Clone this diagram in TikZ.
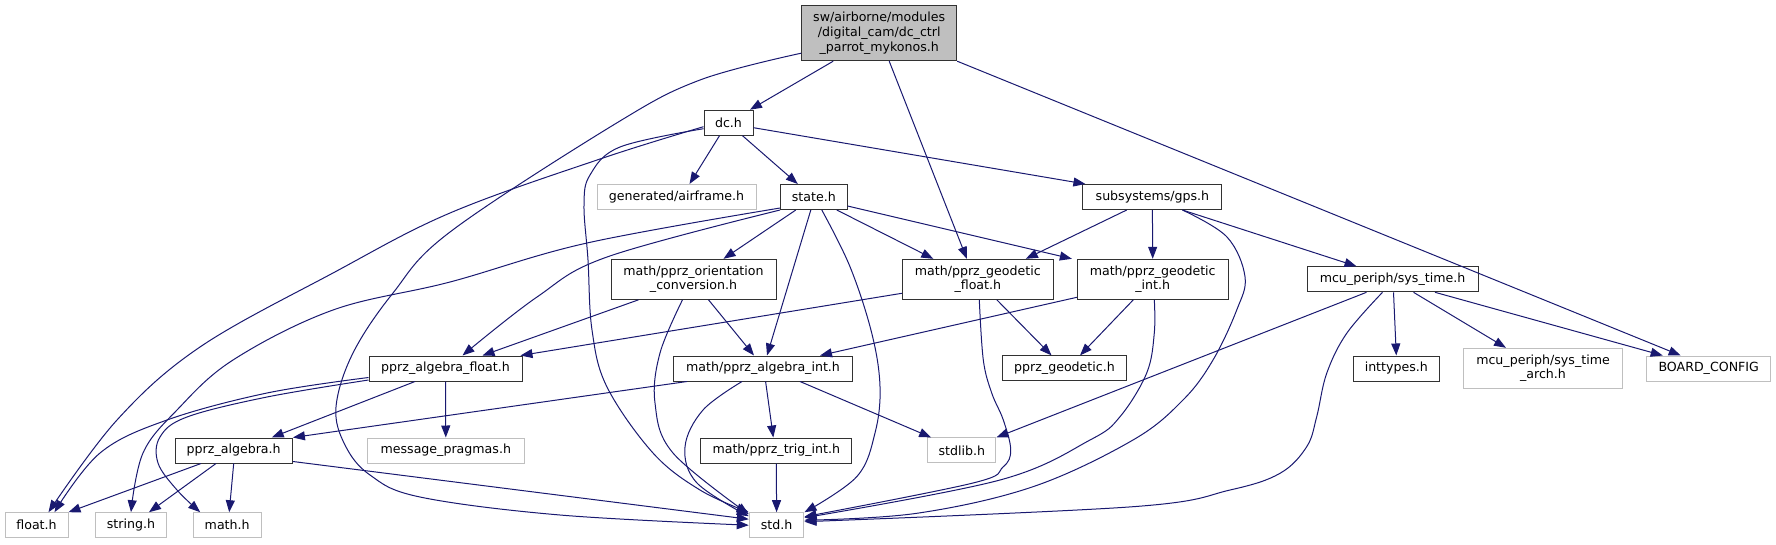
\documentclass[tikz,border=0pt]{standalone}
\usepackage{fontspec}
\setmainfont{DejaVu Sans}
\usetikzlibrary{arrows.meta}
\definecolor{EdgeBlue}{RGB}{25,25,112}
\definecolor{NodeGray}{RGB}{191,191,191}
\definecolor{BoxLine}{RGB}{50,50,50}
\tikzset{
  hdr/.style={draw=BoxLine,line width=1pt,fill=white,inner sep=0pt,
    minimum height=25pt,align=center,font=\fontsize{12.6}{14.7}\selectfont},
  sys/.style={hdr,draw=NodeGray},
  dep/.style={->,EdgeBlue,line width=1pt},
  curvy/.style={dep,smooth,tension=0.6}
}
\begin{document}
\begin{tikzpicture}[x=1pt,y=-1pt,>={Triangle[length=12pt,width=9pt]}]
      \useasboundingbox (0,0) rectangle (1776,544);
      % header files
      \node[hdr,fill=NodeGray,minimum width=155pt,minimum height=55pt] (root) at (879.2,33.2)
        {sw/airborne/modules\\/digital\_cam/dc\_ctrl\\\_parrot\_mykonos.h};
      \node[hdr,minimum width=49pt] (dch) at (728.5,122.7) {dc.h};
      \node[sys,minimum width=159pt] (airframe) at (676.5,197) {generated/airframe.h};
      \node[hdr,minimum width=66.5pt] (state) at (813.8,197) {state.h};
      \node[hdr,minimum width=139pt] (gps) at (1152.4,197) {subsystems/gps.h};
      \node[hdr,minimum width=165pt,minimum height=40pt] (orient) at (693.5,279.3)
        {math/pprz\_orientation\\\_conversion.h};
      \node[hdr,minimum width=151pt,minimum height=40pt] (geofloat) at (977.8,279.3)
        {math/pprz\_geodetic\\\_float.h};
      \node[hdr,minimum width=150.7pt,minimum height=40pt] (geoint) at (1152.7,279.3)
        {math/pprz\_geodetic\\\_int.h};
      \node[hdr,minimum width=171pt] (systime) at (1392.5,279.3) {mcu\_periph/sys\_time.h};
      \node[hdr,minimum width=153pt] (algfloat) at (445.5,368.5) {pprz\_algebra\_float.h};
      \node[hdr,minimum width=178.7pt] (algint) at (763,368.5) {math/pprz\_algebra\_int.h};
      \node[hdr,minimum width=124.4pt] (geodetic) at (1064.5,368.4) {pprz\_geodetic.h};
      \node[hdr,minimum width=86pt] (inttypes) at (1396.3,368.5) {inttypes.h};
      \node[sys,minimum width=158.6pt,minimum height=40pt] (arch) at (1543,368.3)
        {mcu\_periph/sys\_time\\\_arch.h};
      \node[sys,minimum width=124pt] (board) at (1708.7,368.5) {BOARD\_CONFIG};
      \node[hdr,minimum width=117.4pt] (algebra) at (233.7,450.5) {pprz\_algebra.h};
      \node[sys,minimum width=157pt] (pragmas) at (445.8,450.5) {message\_pragmas.h};
      \node[hdr,minimum width=150.7pt] (trig) at (776.3,450.5) {math/pprz\_trig\_int.h};
      \node[sys,minimum width=68.3pt] (stdlib) at (961.8,450.4) {stdlib.h};
      \node[sys,minimum width=63pt] (floath) at (36.5,525.2) {float.h};
      \node[sys,minimum width=70.6pt] (stringh) at (131,525.2) {string.h};
      \node[sys,minimum width=68.3pt] (mathh) at (227.2,525.2) {math.h};
      \node[sys,minimum width=54.7pt] (stdh) at (776.6,525.2) {std.h};
      % includes of the root file
      \draw[dep] ([xshift=-46pt]root.south) -- ([xshift=21.5pt]dch.north);
      \draw[dep] ([xshift=10pt]root.south) -- ([xshift=-11pt]geofloat.north);
      \draw[dep] (root.south east) -- ([xshift=-28pt]board.north);
      \draw[curvy] plot coordinates {([yshift=-20pt]root.west) (700,80) (615,124) (450,232) (393,293)
        (353,353) (336,407) (345,445) (370,475) (420,497) (560,515) (stdh.west)};
      % dc.h
      \draw[curvy] plot coordinates {([yshift=-4pt]dch.west) (600,159) (450,213) (333,273) (200,347)
        (117,420) ([xshift=12pt]floath.north)};
      \draw[curvy] plot coordinates {([yshift=-6pt]dch.west) (620,147) (590,175) (584,205) (588,260)
        (592,330) (607,387) (653,453) (700,490) (stdh.north west)};
      \draw[dep] ([xshift=-9pt]dch.south) -- ([xshift=13pt]airframe.north);
      \draw[dep] ([xshift=14pt]dch.south) -- ([xshift=-16pt]state.north);
      \draw[dep] ([yshift=-5pt]dch.east) -- ([xshift=-67pt]gps.north);
      % state.h
      \draw[dep] ([xshift=-18pt]state.south) -- ([xshift=30pt]orient.north);
      \draw[dep] ([xshift=-3pt]state.south) -- ([xshift=4pt]algint.north);
      \draw[curvy] plot coordinates {([xshift=8pt]state.south) (850,266.7) (871.7,333) (880,386.7)
        (875,433) (856.7,476.7) (stdh.north east)};
      \draw[dep] ([xshift=23pt]state.south) -- ([xshift=-44.5pt]geofloat.north);
      \draw[dep] ([yshift=-9pt]state.east) -- ([xshift=-5pt]geoint.north west);
      \draw[curvy] plot coordinates {(state.south west) (607,257) (537,297) ([xshift=17pt]algfloat.north)};
      \draw[curvy] plot coordinates {([yshift=-11pt]state.west) (587,243) (450,282) (333,310) (233,360)
        (177,410) (143,453) (stringh.north)};
      % subsystems/gps.h
      \draw[dep] ([xshift=-25.7pt]gps.south) -- ([xshift=48pt]geofloat.north);
      \draw[dep] (gps.south) -- (geoint.north);
      \draw[dep] ([xshift=30pt]gps.south) -- ([xshift=-36pt]systime.north);
      \draw[curvy] plot coordinates {([xshift=30pt]gps.south) (1226.7,236.7) (1245,276.7) (1236.7,310)
        (1213,360) (1183,400) (1133,440) (1033,486.7) (916.7,513.3) ([yshift=5pt]stdh.east)};
      % geodetic headers
      \draw[dep] ([yshift=-14pt]geofloat.west) -- ([xshift=-2pt]algfloat.north east);
      \draw[dep] ([xshift=19pt]geofloat.south) -- ([xshift=-13pt]geodetic.north);
      \draw[curvy] plot coordinates {([xshift=1.5pt]geofloat.south) (983.3,360) (991.7,393) (1003.3,420)
        (1010.7,450) (1003,467) (973,483) ([yshift=8.5pt]stdh.east)};
      \draw[dep] ([xshift=-19.4pt]geoint.south) -- ([xshift=15.5pt]geodetic.north);
      \draw[dep] ([yshift=-18pt]geoint.west) -- ([xshift=57pt]algint.north);
      \draw[curvy] plot coordinates {([xshift=1.6pt]geoint.south) (1154.3,333) (1146.7,373) (1120,416.7)
        (1090,440) (1000,480) ([yshift=7.5pt]stdh.east)};
      % orientation conversion
      \draw[dep] ([xshift=-55pt]orient.south) -- ([xshift=37pt]algfloat.north);
      \draw[dep] ([xshift=15pt]orient.south) -- ([xshift=-9pt]algint.north);
      \draw[curvy] plot coordinates {([xshift=-11pt]orient.south) (660,353) (655,403) (673,453)
        ([yshift=-2pt]stdh.north west)};
      % sys_time.h
      \draw[dep] ([xshift=-26pt]systime.south) -- (stdlib.north east);
      \draw[curvy] plot coordinates {([xshift=-10pt]systime.south) (1346.7,333.3) (1326.7,373.3)
        (1316.7,416.7) (1306.7,446.7) (1280,473.3) (1230,490) (1133,506.7) ([yshift=3.5pt]stdh.east)};
      \draw[dep] ([xshift=1pt]systime.south) -- (inttypes.north);
      \draw[dep] ([xshift=21pt]systime.south) -- ([xshift=-37pt]arch.north);
      \draw[dep] ([xshift=42.5pt]systime.south) -- ([xshift=-46pt]board.north);
      % algebra headers
      \draw[dep] ([xshift=-76pt]algint.south) -- (algebra.north east);
      \draw[curvy] plot coordinates {([xshift=-21pt]algint.south) (703,410) (685,447) (697,483)
        ([yshift=-4pt]stdh.north west)};
      \draw[dep] ([xshift=2.6pt]algint.south) -- ([xshift=-3pt]trig.north);
      \draw[dep] ([xshift=37pt]algint.south) -- ([xshift=4pt]stdlib.north west);
      \draw[dep] (trig.south) -- (stdh.north);
      \draw[curvy] plot coordinates {([yshift=-9pt]algfloat.west) (267,393) (167,420) (100,453)
        ([xshift=18pt]floath.north)};
      \draw[curvy] plot coordinates {([yshift=-11.5pt]algfloat.west) (267,397) (187,417) (160,437)
        (158,463) (177,490) ([xshift=-27pt]mathh.north)};
      \draw[dep] ([xshift=-30.5pt]algfloat.south) -- ([xshift=38pt]algebra.north);
      \draw[dep] (algfloat.south) -- (pragmas.north);
      \draw[dep] ([xshift=-32.7pt]algebra.south) -- (floath.north east);
      \draw[dep] ([xshift=-17.7pt]algebra.south) -- ([xshift=18pt]stringh.north);
      \draw[dep] (algebra.south) -- ([xshift=2pt]mathh.north);
      \draw[dep] ([yshift=-11pt]algebra.east) -- ([yshift=6pt]stdh.west);
    \end{tikzpicture}
\end{document}
